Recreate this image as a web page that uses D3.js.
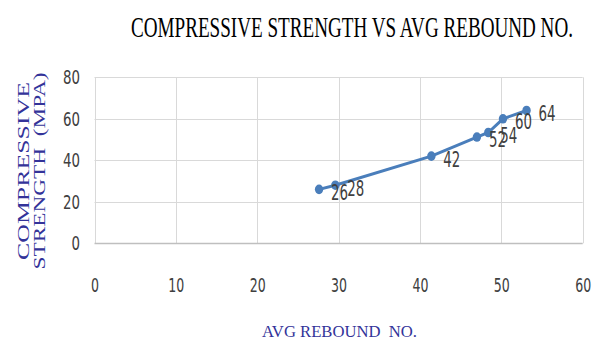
<!DOCTYPE html>
<html><head><meta charset="utf-8">
<script src="https://cdn.jsdelivr.net/npm/d3@7"></script>
<style>body{margin:0;background:#fff}svg{display:block}text{white-space:pre}</style>
</head><body>
<svg id="c" width="602" height="340"></svg>
<script>
const reboundNo = [27.6, 29.6, 41.4, 47.0, 48.4, 50.2, 53.1];
const strength = [26, 28, 42, 51.2, 53.4, 60, 64];
const pointLabels = ["26", "28", "42", "52", "54", "60", "64"];
const xTicks = [0, 10, 20, 30, 40, 50, 60];
const yTicks = [0, 20, 40, 60, 80];
const title = "COMPRESSIVE STRENGTH VS AVG REBOUND NO.";
const xTitle = "AVG REBOUND  NO.";
const yTitleLines = ["COMPRESSIVE", "STRENGTH  (MPA)"];

const svg = d3.select("#c");
const x = d3.scaleLinear().domain([0, 60]).range([94.5, 582.7]);
const y = d3.scaleLinear().domain([0, 80]).range([243.3, 77.3]);
const tickFont = "'DejaVu Sans Condensed','Liberation Sans Narrow',sans-serif";
const serif = "'Liberation Serif','Times New Roman',serif";

// gridlines
const g = svg.append("g");
g.selectAll(".vg").data(xTicks).join("line")
  .attr("x1", d => Math.round(x(d)) + 0.5).attr("x2", d => Math.round(x(d)) + 0.5)
  .attr("y1", y(80)).attr("y2", y(0)).attr("stroke", "#d9d9d9").attr("stroke-width", 1);
g.selectAll(".hg").data(yTicks).join("line")
  .attr("y1", d => Math.round(y(d)) + 0.5).attr("y2", d => Math.round(y(d)) + 0.5)
  .attr("x1", x(0)).attr("x2", x(60))
  .attr("stroke", d => d === 0 ? "#bfbfbf" : "#d9d9d9").attr("stroke-width", d => d === 0 ? 1.5 : 1);

// axes tick labels via d3 axes
const xAxis = svg.append("g").attr("transform", "translate(0,278)")
  .call(d3.axisBottom(x).tickValues(xTicks).tickSize(0).tickPadding(0));
xAxis.select(".domain").remove();
xAxis.selectAll("text").attr("font-family", tickFont).attr("font-size", 19).attr("fill", "#404040")
  .attr("dy", "0.71em").attr("textLength", function(){ return this.textContent.length * 8; })
  .attr("lengthAdjust", "spacingAndGlyphs");

const yAxis = svg.append("g").attr("transform", "translate(80,0)")
  .call(d3.axisLeft(y).tickValues(yTicks).tickSize(0).tickPadding(0));
yAxis.select(".domain").remove();
yAxis.selectAll("text").attr("font-family", tickFont).attr("font-size", 19).attr("fill", "#404040")
  .attr("dy", "0.35em").attr("textLength", function(){ return this.textContent.length * 8.5; })
  .attr("lengthAdjust", "spacingAndGlyphs");
svg.selectAll(".tick line").remove();

// series
const pts = reboundNo.map((v, i) => [v, strength[i], pointLabels[i]]);
svg.append("path").datum(pts)
  .attr("d", d3.line().x(d => x(d[0])).y(d => y(d[1])))
  .attr("fill", "none").attr("stroke", "#4a7ebb").attr("stroke-width", 3);
svg.selectAll(".m").data(pts).join("ellipse")
  .attr("cx", d => x(d[0])).attr("cy", d => y(d[1])).attr("rx", 4.2).attr("ry", 4.8)
  .attr("fill", "#4a7ebb");
svg.selectAll(".lbl").data(pts).join("text")
  .attr("x", d => x(d[0]) + 12).attr("y", d => y(d[1]) + 3)
  .attr("dy", "0.35em")
  .attr("font-family", tickFont).attr("font-size", 21).attr("fill", "#404040")
  .attr("textLength", d => d[2].length * 8.5).attr("lengthAdjust", "spacingAndGlyphs")
  .text(d => d[2]);

// titles
svg.append("text").attr("transform", "translate(352,37) scale(1,1.3)")
  .attr("text-anchor", "middle")
  .attr("font-family", serif).attr("font-size", 22)
  .attr("textLength", 442).attr("lengthAdjust", "spacingAndGlyphs")
  .attr("fill", "#000").text(title);

svg.append("text").attr("x", 262).attr("y", 337)
  .attr("font-family", serif).attr("font-size", 16)
  .attr("textLength", 155).attr("lengthAdjust", "spacingAndGlyphs")
  .attr("fill", "#333399").text(xTitle);

const yt = svg.append("g").attr("transform", "translate(0,171) rotate(-90)");
yt.selectAll("text").data(yTitleLines).join("text")
  .attr("x", 0).attr("y", (d, i) => 29 + i * 16)
  .attr("text-anchor", "middle")
  .attr("font-family", serif).attr("font-size", 17)
  .attr("textLength", (d, i) => i === 0 ? 178 : 197).attr("lengthAdjust", "spacingAndGlyphs")
  .attr("fill", "#333399").text(d => d);
</script>
</body></html>
